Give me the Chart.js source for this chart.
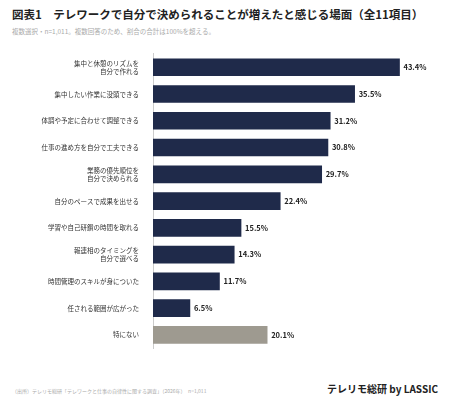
<!DOCTYPE html>
<html><head><meta charset="utf-8">
<script src="https://cdn.jsdelivr.net/npm/chart.js@4"></script>
<style>
body{margin:0;background:#fff;font-family:"Noto Sans CJK JP","Noto Sans",sans-serif;}
#t{position:absolute;left:12px;top:6px;font-size:11.5px;font-weight:bold;color:#222;white-space:nowrap;}
#s{position:absolute;left:12px;top:26px;font-size:6.5px;color:#aaa;white-space:nowrap;}
#f{position:absolute;left:12px;top:387px;font-size:5px;color:#aaa;white-space:nowrap;}
#b{position:absolute;right:12px;top:381px;font-size:10px;font-weight:bold;color:#222;white-space:nowrap;}
#w{position:absolute;left:0;top:44px;width:450px;height:318px;}
</style></head><body>
<div id="t">図表1　テレワークで自分で決められることが増えたと感じる場面（全11項目）</div>
<div id="s">複数選択・n=1,011。複数回答のため、割合の合計は100%を超える。</div>
<div id="w"><canvas id="chart"></canvas></div>
<div id="f">（出所）テレリモ総研「テレワークと仕事の自律性に関する調査」（2026年）　n=1,011</div>
<div id="b">テレリモ総研 by LASSIC</div>
<script>
var labels=[["集中と休憩のリズムを","自分で作れる"],"集中したい作業に没頭できる","体調や予定に合わせて調整できる","仕事の進め方を自分で工夫できる",["業務の優先順位を","自分で決められる"],"自分のペースで成果を出せる","学習や自己研鑽の時間を取れる",["報連相のタイミングを","自分で選べる"],"時間管理のスキルが身についた","任される範囲が広がった","特にない"];
var values=[43.4,35.5,31.2,30.8,29.7,22.4,15.5,14.3,11.7,6.5,20.1];
var colors=values.map(function(v,i){return i==10?'#9e9a90':'#1f2a4a'});
new Chart('chart',{type:'bar',
data:{labels:labels,datasets:[{data:values,backgroundColor:colors,barThickness:17}]},
options:{indexAxis:'y',responsive:true,maintainAspectRatio:false,animation:false,
layout:{padding:{left:0,right:13,top:0,bottom:0}},
plugins:{legend:{display:false},tooltip:{enabled:false}},
scales:{x:{min:0,max:50,display:false},
y:{grid:{display:false},border:{color:'#ccc'},afterFit:function(s){s.width=153},
ticks:{color:'#333',font:{size:6.5,family:'"Noto Sans CJK JP"'},padding:6}}}},
plugins:[{id:'v',afterDatasetsDraw:function(c){var x=c.ctx,m=c.getDatasetMeta(0);x.save();
x.font='bold 7.5px "Noto Sans CJK JP"';x.fillStyle='#222';x.textBaseline='middle';
m.data.forEach(function(e,i){x.fillText(values[i].toFixed(1)+'%',e.x+4,e.y)});x.restore();}}]
});
</script></body></html>
